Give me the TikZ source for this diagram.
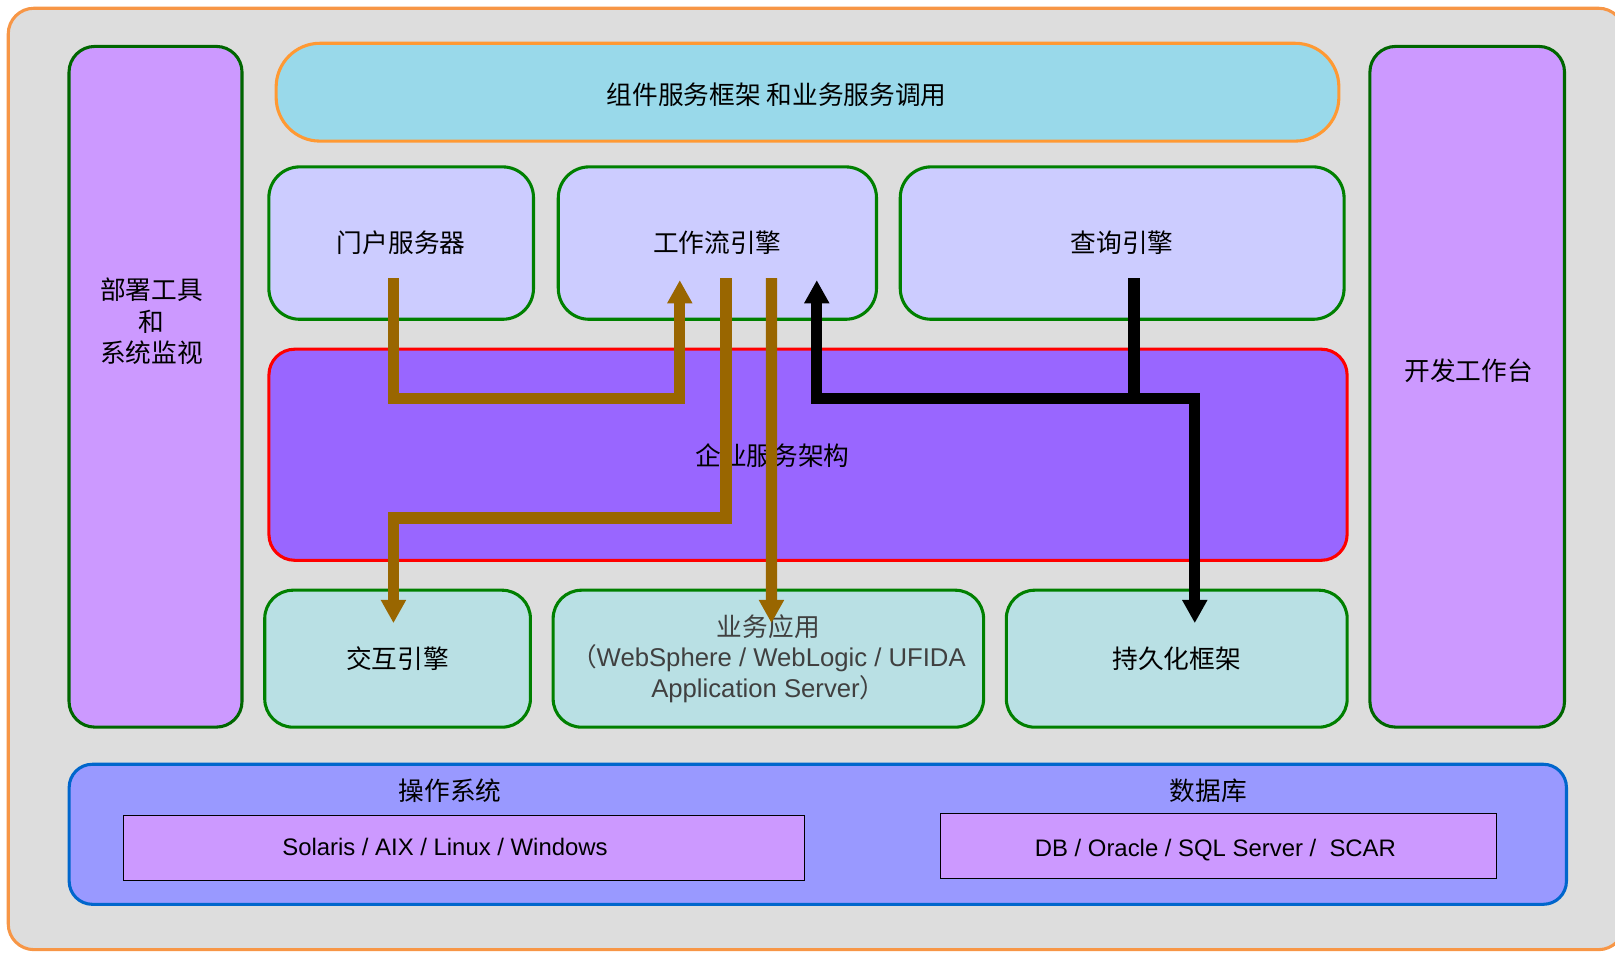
\documentclass[tikz,border=0pt]{standalone}
\usepackage{fontspec}
\setmainfont{Liberation Sans}
\newfontfamily\cjk{Noto Sans CJK SC}
\usetikzlibrary{arrows.meta, positioning}
\definecolor{bggray}{HTML}{DDDDDD}
\definecolor{frameorange}{HTML}{F79646}
\definecolor{baronange}{HTML}{FF9933}
\definecolor{lilac}{HTML}{CC99FF}
\definecolor{darkgrn}{HTML}{006600}
\definecolor{midgrn}{HTML}{008000}
\definecolor{skyfill}{HTML}{99D9EA}
\definecolor{paleblue}{HTML}{CCCCFF}
\definecolor{violet}{HTML}{9966FF}
\definecolor{palecyan}{HTML}{B9E0E4}
\definecolor{periwinkle}{HTML}{9999FF}
\definecolor{edgeblue}{HTML}{0066CC}
\definecolor{flowbrown}{HTML}{996600}
\tikzset{
    sidebox/.style={rectangle, rounded corners=0.5cm, inner sep=0pt, draw=darkgrn, fill=lilac, line width=1.7pt},
    barbox/.style={rectangle, rounded corners=0.85cm, inner sep=0pt, draw=baronange, fill=skyfill, line width=1.7pt},
    enginebox/.style={rectangle, rounded corners=0.6cm, inner sep=0pt, draw=midgrn, fill=paleblue, line width=1.7pt},
    corebox/.style={rectangle, rounded corners=0.5cm, inner sep=0pt, draw=red, fill=violet, line width=1.7pt},
    servicebox/.style={rectangle, rounded corners=0.55cm, inner sep=0pt, draw=midgrn, fill=palecyan, line width=1.7pt, align=center},
    basebox/.style={rectangle, rounded corners=0.45cm, inner sep=0pt, draw=edgeblue, fill=periwinkle, line width=1.7pt},
    itembox/.style={rectangle, inner sep=0pt, draw=black, fill=lilac, line width=0.5pt},
    itemtxt/.style={inner sep=0pt, font=\fontsize{13.2}{16}\selectfont},
    cntxt/.style={font=\cjk\fontsize{14.2}{17.5}\selectfont, align=center},
    brflow/.style={line width=6.3pt, draw=flowbrown, -{Triangle[length=0.45cm,width=0.46cm]}},
    bkflow/.style={line width=6.3pt, draw=black, -{Triangle[length=0.45cm,width=0.46cm]}},
}
\begin{document}
\begin{tikzpicture}[x=0.02cm, y=-0.02cm]
  \useasboundingbox (0,0) rectangle (1568,924.3);
  \clip (0,0) rectangle (1568,924.3);
  \draw[line width=1.7pt, draw=frameorange, fill=bggray, rounded corners=0.5cm] (8,8) rectangle (1577,922);

  % side columns
  \node[sidebox, minimum width=3.36cm, minimum height=13.22cm] (deploy) at (151,375.5) {};
  \node[cntxt] (deployt) at (147,312) {部署工具\\和\\系统监视};
  \node[sidebox, minimum width=3.78cm, minimum height=13.22cm] (devtool) at (1424.5,375.5) {};
  \node[cntxt] (devtoolt) at (1426,360) {开发工作台};

  % top bar
  \node[barbox, minimum width=20.64cm, minimum height=1.9cm] (svcframe) at (784,89.5) {};
  \node[cntxt] (svcframet) at (754,92) {组件服务框架 和业务服务调用};

  % engines
  \node[enginebox, cntxt, minimum width=5.14cm, minimum height=2.96cm] (portal) at (389.5,236) {门户服务器};
  \node[enginebox, cntxt, minimum width=6.18cm, minimum height=2.96cm] (flow) at (696.5,236) {工作流引擎};
  \node[enginebox, cntxt, minimum width=8.62cm, minimum height=2.96cm] (query) at (1089.5,236) {查询引擎};

  % enterprise service layer
  \node[corebox, minimum width=20.94cm, minimum height=4.1cm] (esa) at (784.5,441.5) {};
  \node[cntxt] (esat) at (750,442) {企业服务架构};

  % services
  \node[servicebox, cntxt, minimum width=5.16cm, minimum height=2.66cm] (interact) at (386,639.5) {交互引擎};
  \node[servicebox, minimum width=8.36cm, minimum height=2.66cm, text=black!75,
        font=\fontsize{14.2}{17}\selectfont] (bizapp) at (746,639.5)
        {{\cjk 业务应用}\\{\cjk （}WebSphere / WebLogic / UFIDA\\Application Server{\cjk ）}};
  \node[servicebox, cntxt, minimum width=6.62cm, minimum height=2.66cm] (persist) at (1142.5,639.5) {持久化框架};

  % platform
  \node[basebox, minimum width=29.08cm, minimum height=2.72cm] (platform) at (794,810) {};
  \node[cntxt] (ost) at (437,768) {操作系统};
  \node[cntxt] (dbt) at (1173,768) {数据库};
  \node[itembox, minimum width=13.22cm, minimum height=1.26cm] (osbox) at (450.5,823.5) {};
  \node[itemtxt] (oslist) at (432,822) {Solaris / AIX / Linux / Windows};
  \node[itembox, minimum width=10.8cm, minimum height=1.26cm] (dbbox) at (1183,821.5) {};
  \node[itemtxt] (dblist) at (1180,825) {DB / Oracle / SQL Server /~ SCAR};

  % ports
  \coordinate (portal-out) at ([shift={(-7.5,34)}]portal.center);
  \coordinate (flow-in)    at ([shift={(-36.5,36)}]flow.center);
  \coordinate (flow-out)   at ([shift={(8.5,34)}]flow.center);
  \coordinate (flow-app)   at ([shift={(52.5,34)}]flow.center);
  \coordinate (flow-back)  at ([shift={(96.5,36)}]flow.center);
  \coordinate (query-out)  at ([shift={(11.5,34)}]query.center);
  \coordinate (interact-in) at ([shift={(-4,-34.5)}]interact.center);
  \coordinate (bizapp-in)  at ([shift={(3,-34.5)}]bizapp.center);
  \coordinate (persist-in) at ([shift={(17.5,-34.5)}]persist.center);

  \draw[brflow] (portal-out) -- ++(0,117) -| (flow-in);
  \draw[brflow] (flow-out) -- ++(0,233) -| (interact-in);
  \draw[brflow] (flow-app) -- (bizapp-in);
  \draw[bkflow] (query-out) -- ++(0,117) coordinate (split) -| (persist-in);
  \draw[bkflow] (split) -| (flow-back);
\end{tikzpicture}
\end{document}
